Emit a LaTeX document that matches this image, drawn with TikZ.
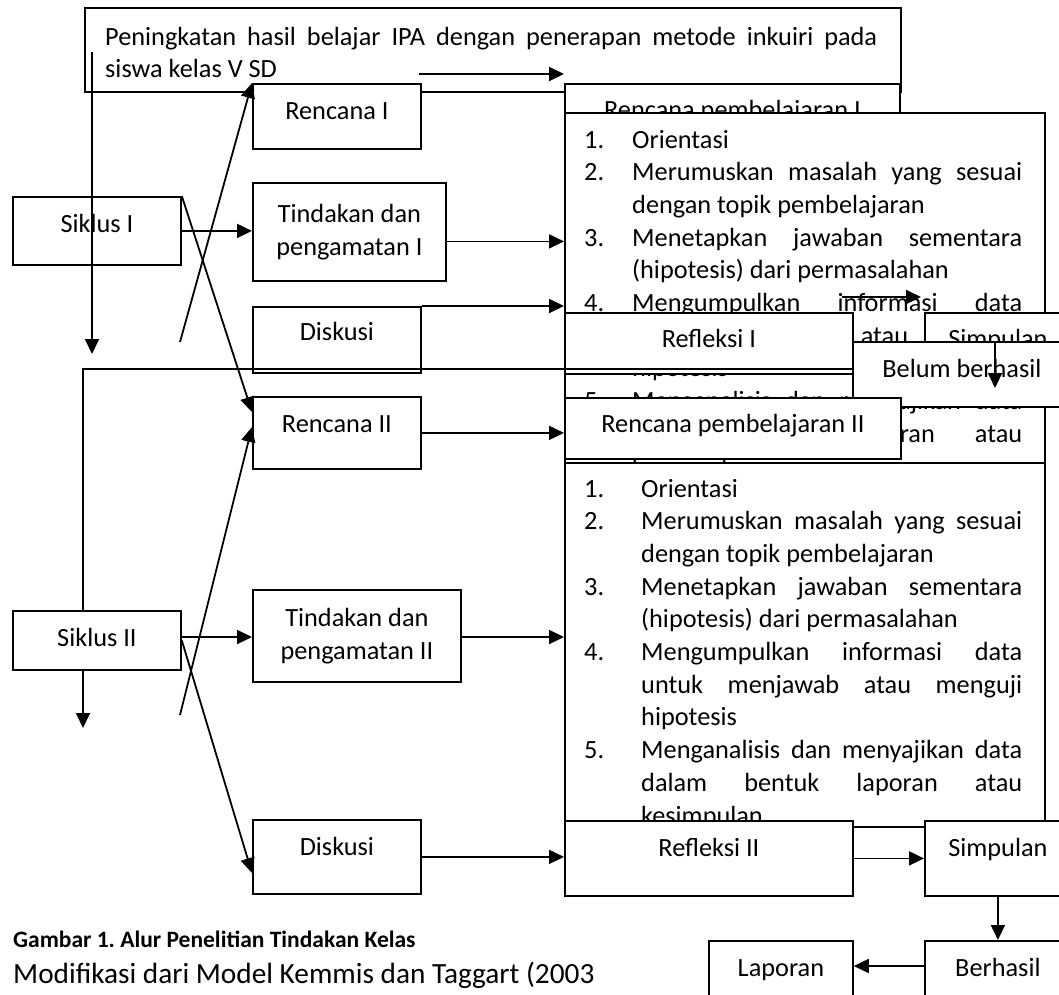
\documentclass[tikz,border=0pt]{standalone}
\usepackage{fontspec}
\setmainfont{Carlito}
\usetikzlibrary{arrows.meta}
\frenchspacing
\newlength\lind
\newlength\ltw
\newcommand\li[2]{\makebox[\lind][l]{#1}#2}
\newcommand\jl[1]{\makebox[\ltw][s]{#1}}
\newcommand\up[2]{\raisebox{#1pt}{#2}}
\newcommand\fs{\fontsize{26.3}{32.7}\selectfont}
\begin{document}
\begin{tikzpicture}[x=1pt,y=-1pt,
  box/.style={draw, fill=white, line width=1.8pt, inner sep=0pt, anchor=north west,
    text height=17pt, text depth=5pt, font=\fs},
  boxtwo/.style={draw, fill=white, line width=1.8pt, inner sep=0pt, anchor=north west,
    align=center, font=\fs},
  plain/.style={draw, fill=white, line width=1.8pt, inner sep=0pt, anchor=north west},
  ar/.style={line width=1.8pt, -{Triangle[length=15pt,width=14pt]}},
  txt/.style={anchor=base west, inner sep=0pt, font=\fs}]
\useasboundingbox (0,0) rectangle (1059,994);
\clip (0,0) rectangle (1059,994);

% title
\node[plain, minimum width=816pt, minimum height=84pt] (title) at (84,7) {};
\node[txt, font=\fontsize{26.3}{31.5}\selectfont] (titletext) at (105,45.5)
  {\parbox[t]{772pt}{\makebox[772pt][s]{Peningkatan hasil belajar IPA dengan penerapan metode inkuiri pada}\\siswa kelas V SD}};
\coordinate (t1) at (419,74);
\coordinate (v1a) at (92,52);
\coordinate (v1b) at (92,354);

% cycle I left column
\node[box, minimum width=168pt, minimum height=65pt] (rencI) at (252,83) {\up{3}{Rencana I}};
\node[box, minimum width=168pt, minimum height=68pt] (siklusI) at (12,196) {\up{4}{Siklus I}};
\node[boxtwo, minimum width=193pt, minimum height=98pt] (tindI) at (252,182) {Tindakan dan\\pengamatan I};
\node[box, minimum width=168pt, minimum height=66pt] (diskI) at (252,306) {\up{5}{Diskusi}};

% cycle I right column
\node[box, minimum width=335pt, minimum height=62pt] (RPI) at (564,83) {\up{2}{Rencana pembelajaran I}};
\node[plain, minimum width=480pt, minimum height=350pt] (listI) at (564,112) {};
\node[txt] (listItext) at (584,148) {\setlength\lind{48pt}\setlength\ltw{390pt}\parbox[t]{438pt}{%
\li{1.}{Orientasi}\\
\li{2.}{\jl{Merumuskan masalah yang sesuai}}\\
\li{}{dengan topik pembelajaran}\\
\li{3.}{\jl{Menetapkan jawaban sementara}}\\
\li{}{(hipotesis) dari permasalahan}\\
\li{4.}{\jl{Mengumpulkan informasi data}}\\
\li{}{\jl{untuk menjawab atau menguji}}\\
\li{}{hipotesis}\\
\li{5.}{\jl{Menganalisis dan menyajikan data}}\\
\li{}{\jl{dalam bentuk laporan atau}}\\
\li{}{kesimpulan}}};
\node[box, minimum width=288pt, minimum height=61pt] (refI) at (564,312) {\up{2}{Refleksi I}};
\node[box, minimum width=146pt, minimum height=61pt] (simpI) at (924,312) {\up{2}{Simpulan}};
\node[box, minimum width=218pt, minimum height=65pt] (belum) at (852,341) {\up{3}{Belum berhasil}};

% feedback line
\coordinate (fb) at (852,369);
\coordinate (fbend) at (83,728);
\draw[ar] (fb) -| (fbend);

% cycle II
\node[box, minimum width=168pt, minimum height=72pt] (rencII) at (252,396) {\up{6}{Rencana II}};
\node[box, minimum width=336pt, minimum height=61pt] (RPII) at (564,397) {\up{2}{Rencana pembelajaran II}};
\node[plain, minimum width=480pt, minimum height=364pt] (listII) at (564,462) {};
\node[txt] (listIItext) at (584,497) {\setlength\lind{57pt}\setlength\ltw{381pt}\parbox[t]{438pt}{%
\li{1.}{Orientasi}\\
\li{2.}{\jl{Merumuskan masalah yang sesuai}}\\
\li{}{dengan topik pembelajaran}\\
\li{3.}{\jl{Menetapkan jawaban sementara}}\\
\li{}{(hipotesis) dari permasalahan}\\
\li{4.}{\jl{Mengumpulkan informasi data}}\\
\li{}{\jl{untuk menjawab atau menguji}}\\
\li{}{hipotesis}\\
\li{5.}{\jl{Menganalisis dan menyajikan data}}\\
\li{}{\jl{dalam bentuk laporan atau}}\\
\li{}{kesimpulan}}};
\node[box, minimum width=168pt, minimum height=59pt] (siklusII) at (12,610) {Siklus II};
\node[boxtwo, minimum width=208pt, minimum height=92pt] (tindII) at (252,589) {Tindakan dan\\pengamatan II};
\node[box, minimum width=168pt, minimum height=74pt] (diskII) at (252,819) {\up{7}{Diskusi}};
\node[box, minimum width=288pt, minimum height=75pt] (refII) at (564,820) {\up{8}{Refleksi II}};
\node[box, minimum width=146pt, minimum height=75pt] (simpII) at (924,820) {\up{8}{Simpulan}};
\node[box, minimum width=146pt, minimum height=60pt] (berhasil) at (924,940) {Berhasil};
\node[box, minimum width=144pt, minimum height=55pt] (laporan) at (708,940) {\up{-2.5}{Laporan}};

% caption
\node[txt, font=\fontsize{23.5}{28}\selectfont\bfseries] (cap1) at (13,947) {Gambar 1. Alur Penelitian Tindakan Kelas};
\node[txt, font=\fontsize{29.3}{34}\selectfont] (cap2) at (13,983) {Modifikasi dari Model Kemmis dan Taggart (2003};

% helper coordinates
\coordinate (a3) at ([yshift=-9.5pt]tindI.east);
\coordinate (a5) at (842,297);
\coordinate (a5e) at (921,297);
\coordinate (a6) at (995,341);
\coordinate (a6e) at (995,388);
\coordinate (d1) at (180,342);
\coordinate (d2e) at (252,412);
\coordinate (d3) at (180,715);
\coordinate (d3e) at (252,427);
\coordinate (d4e) at (252,873);
\coordinate (a13) at (180,637);
\coordinate (a14) at (460,637);
\coordinate (a19) at (924,966);

% connectors
\draw[ar] (t1) -- (t1 -| RPI.west);
\draw[ar] (v1a) -- (v1b);
\draw[ar] (siklusI.east) -- (siklusI.east -| tindI.west);
\draw[ar] (a3) -- (a3 -| listI.west);
\draw[ar] (diskI.north east) -- (diskI.north east -| listI.west);
\draw[ar] (a5) -- (a5e);
\draw[ar] (a6) -- (a6e);
\draw[ar] (d1) -- (rencI.north west);
\draw[ar] (siklusI.north east) -- (d2e);
\draw[ar] (rencII.east) -- (rencII.east -| RPII.west);
\draw[ar] (d3) -- (d3e);
\draw[ar] (a13) -- (a13 -| tindII.west);
\draw[ar] (a14) -- (a14 -| listII.west);
\draw[ar] (siklusII.east) -- (d4e);
\draw[ar] (diskII.east) -- (diskII.east -| refII.west);
\draw[ar] (refII.east) -- (refII.east -| simpII.west);
\draw[ar] (simpII.south) -- (berhasil.north);
\draw[ar] (a19) -- (a19 -| laporan.east);
\end{tikzpicture}
\end{document}
